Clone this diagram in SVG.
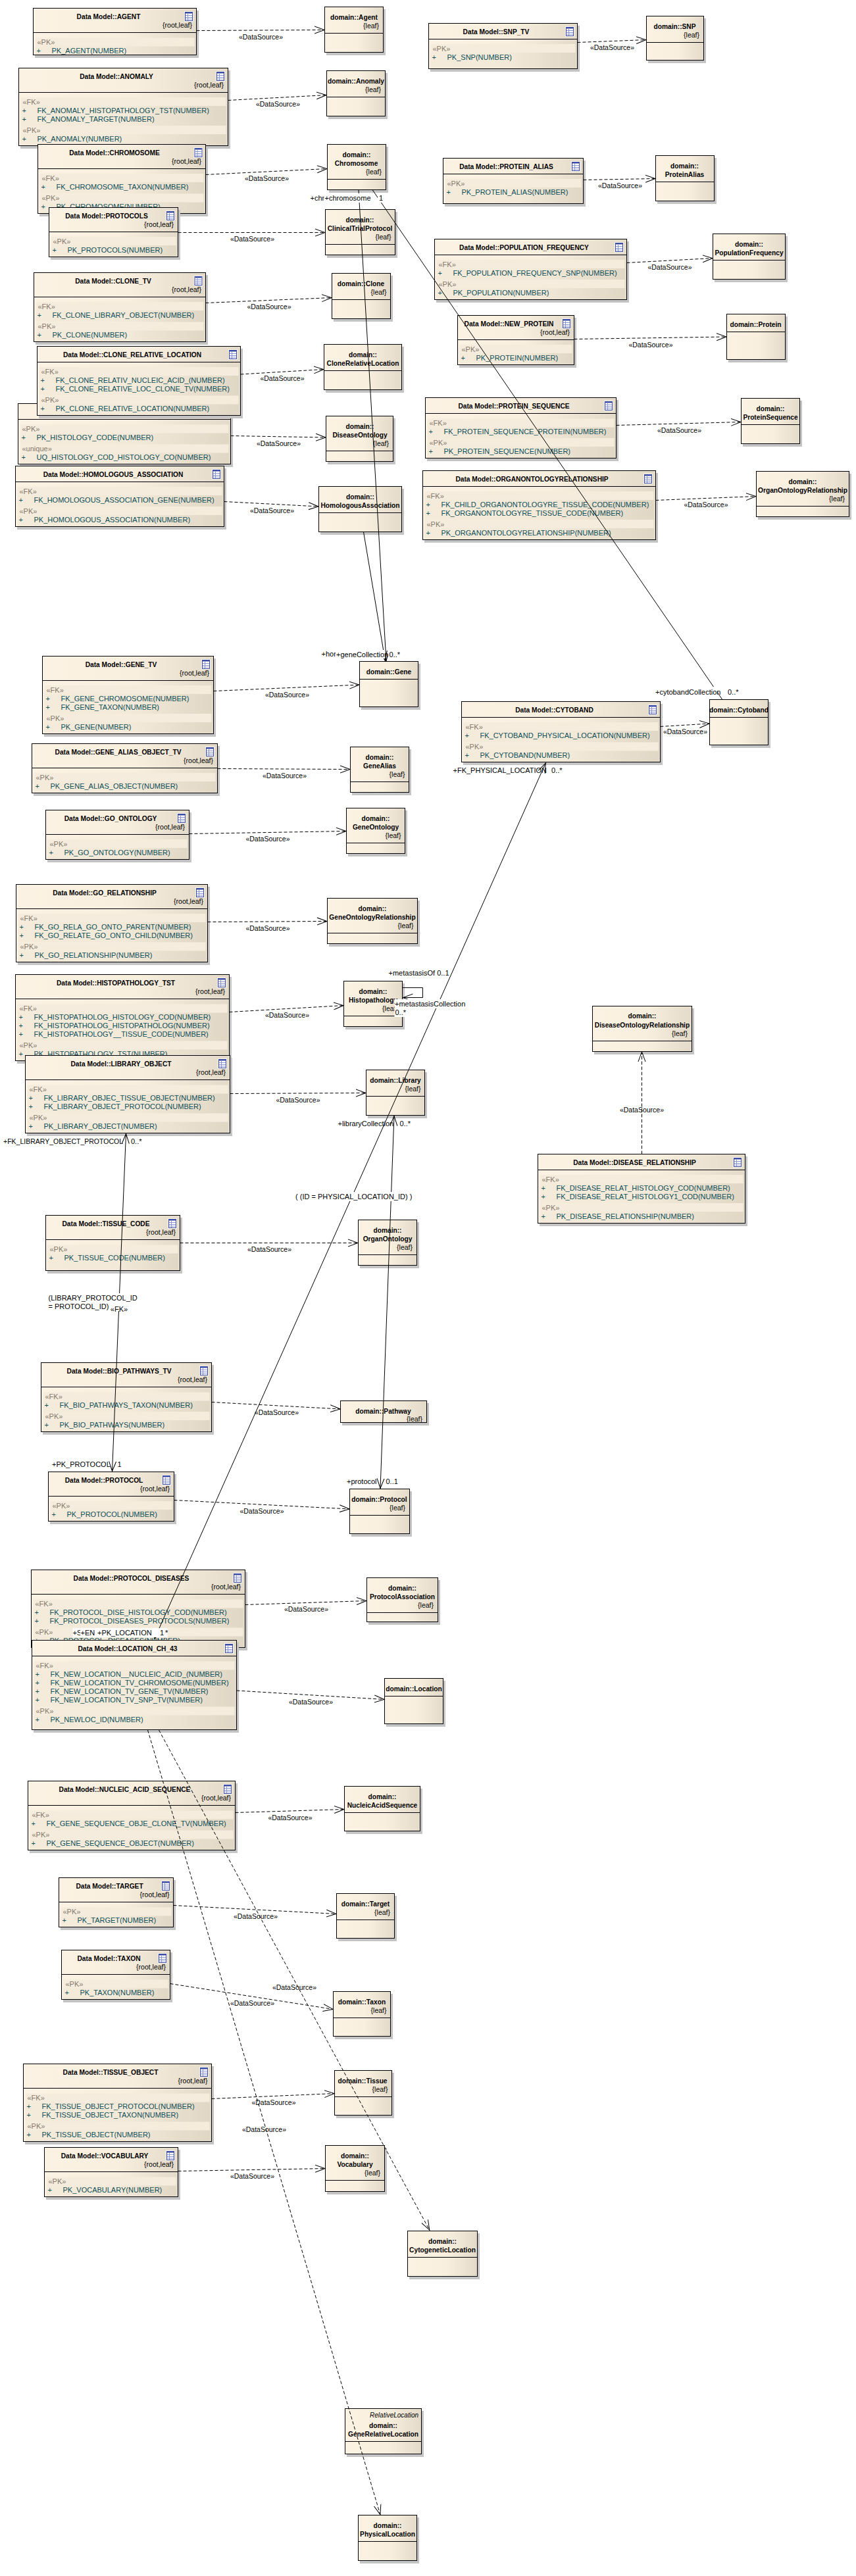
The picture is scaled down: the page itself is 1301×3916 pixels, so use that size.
<svg xmlns="http://www.w3.org/2000/svg" width="1301" height="3916" viewBox="0 0 1301 3916">
<style>
text{font-family:"Liberation Sans",Arial,sans-serif;font-size:11px;fill:#000}
.b{fill:url(#gr);stroke:#000;stroke-width:1;filter:url(#sh)}
.h{stroke:#000;stroke-width:1}
.t{font-weight:bold;font-size:10.2px;text-anchor:middle}
.r{text-anchor:end;font-size:10.5px}
.s{fill:#84786a}
.a{fill:#0d4e58}
.bd{fill:#f5ecdd}
.rw{fill:#cfc3ac;opacity:.13}
.d{stroke:#000;stroke-width:1;fill:none;stroke-dasharray:5 3;marker-end:url(#o)}
.c{stroke:#000;stroke-width:1;fill:none}
.v{marker-end:url(#o)}
.w2{marker-start:url(#o);marker-end:url(#o)}
.ds{text-anchor:middle;font-size:10.5px}
.w{fill:#fff}
</style>
<defs>
<linearGradient id="gr" x1="0" y1="0" x2="1" y2="0"><stop offset="0" stop-color="#fbf2e3"/><stop offset=".55" stop-color="#f8efdf"/><stop offset="1" stop-color="#e3dac9"/></linearGradient>
<filter id="sh" x="-5%" y="-20%" width="115%" height="145%"><feOffset in="SourceAlpha" dx="3" dy="3.5" result="o"/><feFlood flood-color="#c4c4c4"/><feComposite in2="o" operator="in"/><feMerge><feMergeNode/><feMergeNode in="SourceGraphic"/></feMerge></filter>
<marker id="o" markerUnits="userSpaceOnUse" markerWidth="18" markerHeight="14" refX="15.5" refY="7" orient="auto-start-reverse"><path d="M0,1.5L15,7L0,12.5" fill="none" stroke="#000"/></marker>
<g id="ic"><rect x="-1" y="-1" width="14" height="16" fill="#fff" opacity=".75"/><rect x=".5" y=".5" width="11" height="13" fill="#fff" stroke="#3b4ca6"/><path d="M1,1.5H11" stroke="#3b4ca6" stroke-width="2"/><path d="M1,5.5H11M1,8.5H11M1,11H11M4.5,3V13" stroke="#8a95cf"/></g>
</defs>
<g id="n-agent"><rect class="b" x="50.5" y="12.5" width="248" height="71"/><line class="h" x1="50.5" y1="49.5" x2="298.5" y2="49.5"/><use href="#ic" x="281" y="18"/><text class="t" x="165" y="29">Data Model::AGENT</text><text class="r" x="292" y="42">{root,leaf}</text><rect class="bd" x="53.5" y="57.5" width="242" height="13"/><rect class="rw" x="53.5" y="70.5" width="242" height="12"/><text class="s" x="56.5" y="68">«PK»</text><text class="a" x="55.5" y="81">+</text><text class="a" x="78.5" y="81">PK_AGENT(NUMBER)</text></g>
<g id="n-anomaly"><rect class="b" x="28.5" y="103.5" width="318" height="118"/><line class="h" x1="28.5" y1="140.5" x2="346.5" y2="140.5"/><use href="#ic" x="329" y="109"/><text class="t" x="177" y="120">Data Model::ANOMALY</text><text class="r" x="340" y="133">{root,leaf}</text><rect class="bd" x="31.5" y="148" width="312" height="13"/><rect class="rw" x="31.5" y="161" width="312" height="30"/><text class="s" x="34.5" y="159">«FK»</text><text class="a" x="33.5" y="172">+</text><text class="a" x="56.5" y="172">FK_ANOMALY_HISTOPATHOLOGY_TST(NUMBER)</text><text class="a" x="33.5" y="185">+</text><text class="a" x="56.5" y="185">FK_ANOMALY_TARGET(NUMBER)</text><rect class="bd" x="31.5" y="191" width="312" height="13"/><rect class="rw" x="31.5" y="204" width="312" height="17"/><text class="s" x="34.5" y="202">«PK»</text><text class="a" x="33.5" y="215">+</text><text class="a" x="56.5" y="215">PK_ANOMALY(NUMBER)</text></g>
<g id="n-chromosome"><rect class="b" x="57.5" y="219.5" width="255" height="105"/><line class="h" x1="57.5" y1="256.5" x2="312.5" y2="256.5"/><use href="#ic" x="295.5" y="225"/><text class="t" x="174" y="236">Data Model::CHROMOSOME</text><text class="r" x="306" y="249">{root,leaf}</text><rect class="bd" x="60.5" y="264" width="249" height="13"/><rect class="rw" x="60.5" y="277" width="249" height="17"/><text class="s" x="63.5" y="275">«FK»</text><text class="a" x="62.5" y="288">+</text><text class="a" x="85.5" y="288">FK_CHROMOSOME_TAXON(NUMBER)</text><rect class="bd" x="60.5" y="294.5" width="249" height="13"/><rect class="rw" x="60.5" y="307.5" width="249" height="16"/><text class="s" x="63.5" y="305">«PK»</text><text class="a" x="62.5" y="318">+</text><text class="a" x="85.5" y="318">PK_CHROMOSOME(NUMBER)</text></g>
<g id="n-protocols"><rect class="b" x="74.5" y="315.5" width="196" height="75"/><line class="h" x1="74.5" y1="352.5" x2="270.5" y2="352.5"/><use href="#ic" x="253" y="321"/><text class="t" x="162" y="332">Data Model::PROTOCOLS</text><text class="r" x="264" y="345">{root,leaf}</text><rect class="bd" x="77.5" y="360" width="190" height="13"/><rect class="rw" x="77.5" y="373" width="190" height="17"/><text class="s" x="80.5" y="371">«PK»</text><text class="a" x="79.5" y="384">+</text><text class="a" x="102.5" y="384">PK_PROTOCOLS(NUMBER)</text></g>
<g id="n-clone-tv"><rect class="b" x="51.5" y="414.5" width="261" height="105"/><line class="h" x1="51.5" y1="451.5" x2="312.5" y2="451.5"/><use href="#ic" x="295.5" y="420"/><text class="t" x="172" y="431">Data Model::CLONE_TV</text><text class="r" x="306" y="444">{root,leaf}</text><rect class="bd" x="54.5" y="459" width="255" height="13"/><rect class="rw" x="54.5" y="472" width="255" height="17"/><text class="s" x="57.5" y="470">«FK»</text><text class="a" x="56.5" y="483">+</text><text class="a" x="79.5" y="483">FK_CLONE_LIBRARY_OBJECT(NUMBER)</text><rect class="bd" x="54.5" y="489.5" width="255" height="13"/><rect class="rw" x="54.5" y="502.5" width="255" height="16.5"/><text class="s" x="57.5" y="500">«PK»</text><text class="a" x="56.5" y="513">+</text><text class="a" x="79.5" y="513">PK_CLONE(NUMBER)</text></g>
<g id="n-histology"><rect class="b" x="27.5" y="613.5" width="323" height="92"/><line class="h" x1="27.5" y1="637.5" x2="350.5" y2="637.5"/><rect class="bd" x="30.5" y="645.5" width="317" height="13"/><rect class="rw" x="30.5" y="658.5" width="317" height="17"/><text class="s" x="33.5" y="656">«PK»</text><text class="a" x="32.5" y="669">+</text><text class="a" x="55.5" y="669">PK_HISTOLOGY_CODE(NUMBER)</text><rect class="bd" x="30.5" y="675.5" width="317" height="13"/><rect class="rw" x="30.5" y="688.5" width="317" height="16.5"/><text class="s" x="33.5" y="686">«unique»</text><text class="a" x="32.5" y="699">+</text><text class="a" x="55.5" y="699">UQ_HISTOLOGY_COD_HISTOLOGY_CO(NUMBER)</text></g>
<g id="n-clone-rel"><rect class="b" x="56.5" y="526.5" width="309" height="105"/><line class="h" x1="56.5" y1="550.5" x2="365.5" y2="550.5"/><use href="#ic" x="348" y="532"/><text class="t" x="201" y="543">Data Model::CLONE_RELATIVE_LOCATION</text><rect class="bd" x="59.5" y="558" width="303" height="13"/><rect class="rw" x="59.5" y="571" width="303" height="30"/><text class="s" x="62.5" y="569">«FK»</text><text class="a" x="61.5" y="582">+</text><text class="a" x="84.5" y="582">FK_CLONE_RELATIV_NUCLEIC_ACID_(NUMBER)</text><text class="a" x="61.5" y="595">+</text><text class="a" x="84.5" y="595">FK_CLONE_RELATIVE_LOC_CLONE_TV(NUMBER)</text><rect class="bd" x="59.5" y="601.5" width="303" height="13"/><rect class="rw" x="59.5" y="614.5" width="303" height="16.5"/><text class="s" x="62.5" y="612">«PK»</text><text class="a" x="61.5" y="625">+</text><text class="a" x="84.5" y="625">PK_CLONE_RELATIVE_LOCATION(NUMBER)</text></g>
<g id="n-homologous"><rect class="b" x="23.5" y="708.5" width="317" height="92"/><line class="h" x1="23.5" y1="732.5" x2="340.5" y2="732.5"/><use href="#ic" x="323" y="714"/><text class="t" x="172" y="725">Data Model::HOMOLOGOUS_ASSOCIATION</text><rect class="bd" x="26.5" y="740" width="311" height="13"/><rect class="rw" x="26.5" y="753" width="311" height="17"/><text class="s" x="29.5" y="751">«FK»</text><text class="a" x="28.5" y="764">+</text><text class="a" x="51.5" y="764">FK_HOMOLOGOUS_ASSOCIATION_GENE(NUMBER)</text><rect class="bd" x="26.5" y="770" width="311" height="13"/><rect class="rw" x="26.5" y="783" width="311" height="17"/><text class="s" x="29.5" y="781">«PK»</text><text class="a" x="28.5" y="794">+</text><text class="a" x="51.5" y="794">PK_HOMOLOGOUS_ASSOCIATION(NUMBER)</text></g>
<g id="n-snp-tv"><rect class="b" x="651.5" y="35.5" width="226" height="69"/><line class="h" x1="651.5" y1="59.5" x2="877.5" y2="59.5"/><use href="#ic" x="860" y="41"/><text class="t" x="754" y="52">Data Model::SNP_TV</text><rect class="bd" x="654.5" y="67" width="220" height="13"/><rect class="rw" x="654.5" y="80" width="220" height="24"/><text class="s" x="657.5" y="78">«PK»</text><text class="a" x="656.5" y="91">+</text><text class="a" x="679.5" y="91">PK_SNP(NUMBER)</text></g>
<g id="n-protein-alias"><rect class="b" x="673.5" y="240.5" width="213" height="69"/><line class="h" x1="673.5" y1="264.5" x2="886.5" y2="264.5"/><use href="#ic" x="869" y="246"/><text class="t" x="769.5" y="257">Data Model::PROTEIN_ALIAS</text><rect class="bd" x="676.5" y="272" width="207" height="13"/><rect class="rw" x="676.5" y="285" width="207" height="24"/><text class="s" x="679.5" y="283">«PK»</text><text class="a" x="678.5" y="296">+</text><text class="a" x="701.5" y="296">PK_PROTEIN_ALIAS(NUMBER)</text></g>
<g id="n-population"><rect class="b" x="660.5" y="363.5" width="292" height="92"/><line class="h" x1="660.5" y1="387.5" x2="952.5" y2="387.5"/><use href="#ic" x="935" y="369"/><text class="t" x="796.5" y="380">Data Model::POPULATION_FREQUENCY</text><rect class="bd" x="663.5" y="395" width="286" height="13"/><rect class="rw" x="663.5" y="408" width="286" height="17"/><text class="s" x="666.5" y="406">«FK»</text><text class="a" x="665.5" y="419">+</text><text class="a" x="688.5" y="419">FK_POPULATION_FREQUENCY_SNP(NUMBER)</text><rect class="bd" x="663.5" y="425" width="286" height="13"/><rect class="rw" x="663.5" y="438" width="286" height="17"/><text class="s" x="666.5" y="436">«PK»</text><text class="a" x="665.5" y="449">+</text><text class="a" x="688.5" y="449">PK_POPULATION(NUMBER)</text></g>
<g id="n-new-protein"><rect class="b" x="695.5" y="479.5" width="177" height="75"/><line class="h" x1="695.5" y1="516.5" x2="872.5" y2="516.5"/><use href="#ic" x="855" y="485"/><text class="t" x="773.5" y="496">Data Model::NEW_PROTEIN</text><text class="r" x="866" y="509">{root,leaf}</text><rect class="bd" x="698.5" y="524" width="171" height="13"/><rect class="rw" x="698.5" y="537" width="171" height="17"/><text class="s" x="701.5" y="535">«PK»</text><text class="a" x="700.5" y="548">+</text><text class="a" x="723.5" y="548">PK_PROTEIN(NUMBER)</text></g>
<g id="n-protein-seq"><rect class="b" x="646.5" y="604.5" width="290" height="92"/><line class="h" x1="646.5" y1="628.5" x2="936.5" y2="628.5"/><use href="#ic" x="919" y="610"/><text class="t" x="781" y="621">Data Model::PROTEIN_SEQUENCE</text><rect class="bd" x="649.5" y="636.5" width="284" height="13"/><rect class="rw" x="649.5" y="649.5" width="284" height="17"/><text class="s" x="652.5" y="647">«FK»</text><text class="a" x="651.5" y="660">+</text><text class="a" x="674.5" y="660">FK_PROTEIN_SEQUENCE_PROTEIN(NUMBER)</text><rect class="bd" x="649.5" y="666" width="284" height="13"/><rect class="rw" x="649.5" y="679" width="284" height="17"/><text class="s" x="652.5" y="677">«PK»</text><text class="a" x="651.5" y="690">+</text><text class="a" x="674.5" y="690">PK_PROTEIN_SEQUENCE(NUMBER)</text></g>
<g id="n-organ-rel"><rect class="b" x="642.5" y="715.5" width="354" height="105"/><line class="h" x1="642.5" y1="739.5" x2="996.5" y2="739.5"/><use href="#ic" x="979" y="721"/><text class="t" x="808.5" y="732">Data Model::ORGANONTOLOGYRELATIONSHIP</text><rect class="bd" x="645.5" y="747" width="348" height="13"/><rect class="rw" x="645.5" y="760" width="348" height="30"/><text class="s" x="648.5" y="758">«FK»</text><text class="a" x="647.5" y="771">+</text><text class="a" x="670.5" y="771">FK_CHILD_ORGANONTOLOGYRE_TISSUE_CODE(NUMBER)</text><text class="a" x="647.5" y="784">+</text><text class="a" x="670.5" y="784">FK_ORGANONTOLOGYRE_TISSUE_CODE(NUMBER)</text><rect class="bd" x="645.5" y="790" width="348" height="13"/><rect class="rw" x="645.5" y="803" width="348" height="17"/><text class="s" x="648.5" y="801">«PK»</text><text class="a" x="647.5" y="814">+</text><text class="a" x="670.5" y="814">PK_ORGANONTOLOGYRELATIONSHIP(NUMBER)</text></g>
<g id="n-gene-tv"><rect class="b" x="64.5" y="997.5" width="260" height="118"/><line class="h" x1="64.5" y1="1034.5" x2="324.5" y2="1034.5"/><use href="#ic" x="307" y="1003"/><text class="t" x="184" y="1014">Data Model::GENE_TV</text><text class="r" x="318" y="1027">{root,leaf}</text><rect class="bd" x="67.5" y="1042" width="254" height="13"/><rect class="rw" x="67.5" y="1055" width="254" height="30"/><text class="s" x="70.5" y="1053">«FK»</text><text class="a" x="69.5" y="1066">+</text><text class="a" x="92.5" y="1066">FK_GENE_CHROMOSOME(NUMBER)</text><text class="a" x="69.5" y="1079">+</text><text class="a" x="92.5" y="1079">FK_GENE_TAXON(NUMBER)</text><rect class="bd" x="67.5" y="1085" width="254" height="13"/><rect class="rw" x="67.5" y="1098" width="254" height="17"/><text class="s" x="70.5" y="1096">«PK»</text><text class="a" x="69.5" y="1109">+</text><text class="a" x="92.5" y="1109">PK_GENE(NUMBER)</text></g>
<g id="n-gene-alias"><rect class="b" x="48.5" y="1130.5" width="282" height="75"/><line class="h" x1="48.5" y1="1167.5" x2="330.5" y2="1167.5"/><use href="#ic" x="313" y="1136"/><text class="t" x="179.5" y="1147">Data Model::GENE_ALIAS_OBJECT_TV</text><text class="r" x="324" y="1160">{root,leaf}</text><rect class="bd" x="51.5" y="1175" width="276" height="13"/><rect class="rw" x="51.5" y="1188" width="276" height="17"/><text class="s" x="54.5" y="1186">«PK»</text><text class="a" x="53.5" y="1199">+</text><text class="a" x="76.5" y="1199">PK_GENE_ALIAS_OBJECT(NUMBER)</text></g>
<g id="n-go-ontology"><rect class="b" x="69.5" y="1231.5" width="218" height="75"/><line class="h" x1="69.5" y1="1268.5" x2="287.5" y2="1268.5"/><use href="#ic" x="270" y="1237"/><text class="t" x="168" y="1248">Data Model::GO_ONTOLOGY</text><text class="r" x="281" y="1261">{root,leaf}</text><rect class="bd" x="72.5" y="1276" width="212" height="13"/><rect class="rw" x="72.5" y="1289" width="212" height="17"/><text class="s" x="75.5" y="1287">«PK»</text><text class="a" x="74.5" y="1300">+</text><text class="a" x="97.5" y="1300">PK_GO_ONTOLOGY(NUMBER)</text></g>
<g id="n-go-rel"><rect class="b" x="24.5" y="1344.5" width="291" height="118"/><line class="h" x1="24.5" y1="1381.5" x2="315.5" y2="1381.5"/><use href="#ic" x="298" y="1350"/><text class="t" x="159" y="1361">Data Model::GO_RELATIONSHIP</text><text class="r" x="309" y="1374">{root,leaf}</text><rect class="bd" x="27.5" y="1389" width="285" height="13"/><rect class="rw" x="27.5" y="1402" width="285" height="30"/><text class="s" x="30.5" y="1400">«FK»</text><text class="a" x="29.5" y="1413">+</text><text class="a" x="52.5" y="1413">FK_GO_RELA_GO_ONTO_PARENT(NUMBER)</text><text class="a" x="29.5" y="1426">+</text><text class="a" x="52.5" y="1426">FK_GO_RELATE_GO_ONTO_CHILD(NUMBER)</text><rect class="bd" x="27.5" y="1432.5" width="285" height="13"/><rect class="rw" x="27.5" y="1445.5" width="285" height="16.5"/><text class="s" x="30.5" y="1443">«PK»</text><text class="a" x="29.5" y="1456">+</text><text class="a" x="52.5" y="1456">PK_GO_RELATIONSHIP(NUMBER)</text></g>
<g id="n-histopathology"><rect class="b" x="23.5" y="1481.5" width="325" height="131"/><line class="h" x1="23.5" y1="1518.5" x2="348.5" y2="1518.5"/><use href="#ic" x="331" y="1487"/><text class="t" x="176" y="1498">Data Model::HISTOPATHOLOGY_TST</text><text class="r" x="342" y="1511">{root,leaf}</text><rect class="bd" x="26.5" y="1526.5" width="319" height="13"/><rect class="rw" x="26.5" y="1539.5" width="319" height="43"/><text class="s" x="29.5" y="1537">«FK»</text><text class="a" x="28.5" y="1550">+</text><text class="a" x="51.5" y="1550">FK_HISTOPATHOLOG_HISTOLOGY_COD(NUMBER)</text><text class="a" x="28.5" y="1563">+</text><text class="a" x="51.5" y="1563">FK_HISTOPATHOLOG_HISTOPATHOLOG(NUMBER)</text><text class="a" x="28.5" y="1576">+</text><text class="a" x="51.5" y="1576">FK_HISTOPATHOLOGY__TISSUE_CODE(NUMBER)</text><rect class="bd" x="26.5" y="1582.5" width="319" height="13"/><rect class="rw" x="26.5" y="1595.5" width="319" height="16.5"/><text class="s" x="29.5" y="1593">«PK»</text><text class="a" x="28.5" y="1606">+</text><text class="a" x="51.5" y="1606">PK_HISTOPATHOLOGY_TST(NUMBER)</text></g>
<g id="n-library"><rect class="b" x="38.5" y="1604.5" width="311" height="118"/><line class="h" x1="38.5" y1="1641.5" x2="349.5" y2="1641.5"/><use href="#ic" x="332" y="1610"/><text class="t" x="184" y="1621">Data Model::LIBRARY_OBJECT</text><text class="r" x="343" y="1634">{root,leaf}</text><rect class="bd" x="41.5" y="1649.5" width="305" height="13"/><rect class="rw" x="41.5" y="1662.5" width="305" height="30"/><text class="s" x="44.5" y="1660">«FK»</text><text class="a" x="43.5" y="1673">+</text><text class="a" x="66.5" y="1673">FK_LIBRARY_OBJEC_TISSUE_OBJECT(NUMBER)</text><text class="a" x="43.5" y="1686">+</text><text class="a" x="66.5" y="1686">FK_LIBRARY_OBJECT_PROTOCOL(NUMBER)</text><rect class="bd" x="41.5" y="1692.5" width="305" height="13"/><rect class="rw" x="41.5" y="1705.5" width="305" height="16.5"/><text class="s" x="44.5" y="1703">«PK»</text><text class="a" x="43.5" y="1716">+</text><text class="a" x="66.5" y="1716">PK_LIBRARY_OBJECT(NUMBER)</text></g>
<g id="n-cytoband"><rect class="b" x="701.5" y="1066.5" width="302" height="92"/><line class="h" x1="701.5" y1="1090.5" x2="1003.5" y2="1090.5"/><use href="#ic" x="986" y="1072"/><text class="t" x="842.5" y="1083">Data Model::CYTOBAND</text><rect class="bd" x="704.5" y="1098" width="296" height="13"/><rect class="rw" x="704.5" y="1111" width="296" height="17"/><text class="s" x="707.5" y="1109">«FK»</text><text class="a" x="706.5" y="1122">+</text><text class="a" x="729.5" y="1122">FK_CYTOBAND_PHYSICAL_LOCATION(NUMBER)</text><rect class="bd" x="704.5" y="1128.5" width="296" height="13"/><rect class="rw" x="704.5" y="1141.5" width="296" height="16.5"/><text class="s" x="707.5" y="1139">«PK»</text><text class="a" x="706.5" y="1152">+</text><text class="a" x="729.5" y="1152">PK_CYTOBAND(NUMBER)</text></g>
<g id="n-disease-rel"><rect class="b" x="817.5" y="1754.5" width="315" height="105"/><line class="h" x1="817.5" y1="1778.5" x2="1132.5" y2="1778.5"/><use href="#ic" x="1115" y="1760"/><text class="t" x="964.5" y="1771">Data Model::DISEASE_RELATIONSHIP</text><rect class="bd" x="820.5" y="1786" width="309" height="13"/><rect class="rw" x="820.5" y="1799" width="309" height="30"/><text class="s" x="823.5" y="1797">«FK»</text><text class="a" x="822.5" y="1810">+</text><text class="a" x="845.5" y="1810">FK_DISEASE_RELAT_HISTOLOGY_COD(NUMBER)</text><text class="a" x="822.5" y="1823">+</text><text class="a" x="845.5" y="1823">FK_DISEASE_RELAT_HISTOLOGY1_COD(NUMBER)</text><rect class="bd" x="820.5" y="1829" width="309" height="13"/><rect class="rw" x="820.5" y="1842" width="309" height="17"/><text class="s" x="823.5" y="1840">«PK»</text><text class="a" x="822.5" y="1853">+</text><text class="a" x="845.5" y="1853">PK_DISEASE_RELATIONSHIP(NUMBER)</text></g>
<g id="n-tissue-code"><rect class="b" x="69.5" y="1847.5" width="204" height="84"/><line class="h" x1="69.5" y1="1884.5" x2="273.5" y2="1884.5"/><use href="#ic" x="256" y="1853"/><text class="t" x="161" y="1864">Data Model::TISSUE_CODE</text><text class="r" x="267" y="1877">{root,leaf}</text><rect class="bd" x="72.5" y="1892.5" width="198" height="13"/><rect class="rw" x="72.5" y="1905.5" width="198" height="25.5"/><text class="s" x="75.5" y="1903">«PK»</text><text class="a" x="74.5" y="1916">+</text><text class="a" x="97.5" y="1916">PK_TISSUE_CODE(NUMBER)</text></g>
<g id="n-bio-pathways"><rect class="b" x="62.5" y="2071.5" width="259" height="105"/><line class="h" x1="62.5" y1="2108.5" x2="321.5" y2="2108.5"/><use href="#ic" x="304" y="2077"/><text class="t" x="181" y="2088">Data Model::BIO_PATHWAYS_TV</text><text class="r" x="315" y="2101">{root,leaf}</text><rect class="bd" x="65.5" y="2116.5" width="253" height="13"/><rect class="rw" x="65.5" y="2129.5" width="253" height="17"/><text class="s" x="68.5" y="2127">«FK»</text><text class="a" x="67.5" y="2140">+</text><text class="a" x="90.5" y="2140">FK_BIO_PATHWAYS_TAXON(NUMBER)</text><rect class="bd" x="65.5" y="2146" width="253" height="13"/><rect class="rw" x="65.5" y="2159" width="253" height="17"/><text class="s" x="68.5" y="2157">«PK»</text><text class="a" x="67.5" y="2170">+</text><text class="a" x="90.5" y="2170">PK_BIO_PATHWAYS(NUMBER)</text></g>
<g id="n-protocol"><rect class="b" x="73.5" y="2237.5" width="191" height="75"/><line class="h" x1="73.5" y1="2274.5" x2="264.5" y2="2274.5"/><use href="#ic" x="247" y="2243"/><text class="t" x="158" y="2254">Data Model::PROTOCOL</text><text class="r" x="258" y="2267">{root,leaf}</text><rect class="bd" x="76.5" y="2282" width="185" height="13"/><rect class="rw" x="76.5" y="2295" width="185" height="17"/><text class="s" x="79.5" y="2293">«PK»</text><text class="a" x="78.5" y="2306">+</text><text class="a" x="101.5" y="2306">PK_PROTOCOL(NUMBER)</text></g>
<g id="n-protocol-diseases"><rect class="b" x="47.5" y="2386.5" width="325" height="118"/><line class="h" x1="47.5" y1="2423.5" x2="372.5" y2="2423.5"/><use href="#ic" x="355" y="2392"/><text class="t" x="199.5" y="2403">Data Model::PROTOCOL_DISEASES</text><text class="r" x="366" y="2416">{root,leaf}</text><rect class="bd" x="50.5" y="2431.5" width="319" height="13"/><rect class="rw" x="50.5" y="2444.5" width="319" height="30"/><text class="s" x="53.5" y="2442">«FK»</text><text class="a" x="52.5" y="2455">+</text><text class="a" x="75.5" y="2455">FK_PROTOCOL_DISE_HISTOLOGY_COD(NUMBER)</text><text class="a" x="52.5" y="2468">+</text><text class="a" x="75.5" y="2468">FK_PROTOCOL_DISEASES_PROTOCOLS(NUMBER)</text><rect class="bd" x="50.5" y="2474.5" width="319" height="13"/><rect class="rw" x="50.5" y="2487.5" width="319" height="16.5"/><text class="s" x="53.5" y="2485">«PK»</text><text class="a" x="52.5" y="2498">+</text><text class="a" x="75.5" y="2498">PK_PROTOCOL_DISEASES(NUMBER)</text></g>
<g id="n-location"><rect class="b" x="48.5" y="2493.5" width="311" height="136"/><line class="h" x1="48.5" y1="2517.5" x2="359.5" y2="2517.5"/><use href="#ic" x="342" y="2499"/><text class="t" x="194" y="2510">Data Model::LOCATION_CH_43</text><rect class="bd" x="51.5" y="2525.5" width="305" height="13"/><rect class="rw" x="51.5" y="2538.5" width="305" height="56"/><text class="s" x="54.5" y="2536">«FK»</text><text class="a" x="53.5" y="2549">+</text><text class="a" x="76.5" y="2549">FK_NEW_LOCATION__NUCLEIC_ACID_(NUMBER)</text><text class="a" x="53.5" y="2562">+</text><text class="a" x="76.5" y="2562">FK_NEW_LOCATION_TV_CHROMOSOME(NUMBER)</text><text class="a" x="53.5" y="2575">+</text><text class="a" x="76.5" y="2575">FK_NEW_LOCATION_TV_GENE_TV(NUMBER)</text><text class="a" x="53.5" y="2588">+</text><text class="a" x="76.5" y="2588">FK_NEW_LOCATION_TV_SNP_TV(NUMBER)</text><rect class="bd" x="51.5" y="2594.5" width="305" height="13"/><rect class="rw" x="51.5" y="2607.5" width="305" height="21.5"/><text class="s" x="54.5" y="2605">«PK»</text><text class="a" x="53.5" y="2618">+</text><text class="a" x="76.5" y="2618">PK_NEWLOC_ID(NUMBER)</text></g>
<g id="n-nucleic"><rect class="b" x="42.5" y="2707.5" width="315" height="105"/><line class="h" x1="42.5" y1="2744.5" x2="357.5" y2="2744.5"/><use href="#ic" x="340" y="2713"/><text class="t" x="189.5" y="2724">Data Model::NUCLEIC_ACID_SEQUENCE</text><text class="r" x="351" y="2737">{root,leaf}</text><rect class="bd" x="45.5" y="2752.5" width="309" height="13"/><rect class="rw" x="45.5" y="2765.5" width="309" height="17"/><text class="s" x="48.5" y="2763">«FK»</text><text class="a" x="47.5" y="2776">+</text><text class="a" x="70.5" y="2776">FK_GENE_SEQUENCE_OBJE_CLONE_TV(NUMBER)</text><rect class="bd" x="45.5" y="2782.5" width="309" height="13"/><rect class="rw" x="45.5" y="2795.5" width="309" height="16.5"/><text class="s" x="48.5" y="2793">«PK»</text><text class="a" x="47.5" y="2806">+</text><text class="a" x="70.5" y="2806">PK_GENE_SEQUENCE_OBJECT(NUMBER)</text></g>
<g id="n-target"><rect class="b" x="89.5" y="2854.5" width="174" height="75"/><line class="h" x1="89.5" y1="2891.5" x2="263.5" y2="2891.5"/><use href="#ic" x="246" y="2860"/><text class="t" x="166.5" y="2871">Data Model::TARGET</text><text class="r" x="257.5" y="2884">{root,leaf}</text><rect class="bd" x="92.5" y="2899.5" width="168" height="13"/><rect class="rw" x="92.5" y="2912.5" width="168" height="16.5"/><text class="s" x="95.5" y="2910">«PK»</text><text class="a" x="94.5" y="2923">+</text><text class="a" x="117.5" y="2923">PK_TARGET(NUMBER)</text></g>
<g id="n-taxon"><rect class="b" x="93.5" y="2964.5" width="165" height="75"/><line class="h" x1="93.5" y1="3001.5" x2="258.5" y2="3001.5"/><use href="#ic" x="241" y="2970"/><text class="t" x="165.5" y="2981">Data Model::TAXON</text><text class="r" x="252" y="2994">{root,leaf}</text><rect class="bd" x="96.5" y="3009.5" width="159" height="13"/><rect class="rw" x="96.5" y="3022.5" width="159" height="16.5"/><text class="s" x="99.5" y="3020">«PK»</text><text class="a" x="98.5" y="3033">+</text><text class="a" x="121.5" y="3033">PK_TAXON(NUMBER)</text></g>
<g id="n-tissue-object"><rect class="b" x="35.5" y="3137.5" width="286" height="118"/><line class="h" x1="35.5" y1="3174.5" x2="321.5" y2="3174.5"/><use href="#ic" x="304" y="3143"/><text class="t" x="168" y="3154">Data Model::TISSUE_OBJECT</text><text class="r" x="315.5" y="3167">{root,leaf}</text><rect class="bd" x="38.5" y="3182.5" width="280" height="13"/><rect class="rw" x="38.5" y="3195.5" width="280" height="30"/><text class="s" x="41.5" y="3193">«FK»</text><text class="a" x="40.5" y="3206">+</text><text class="a" x="63.5" y="3206">FK_TISSUE_OBJECT_PROTOCOL(NUMBER)</text><text class="a" x="40.5" y="3219">+</text><text class="a" x="63.5" y="3219">FK_TISSUE_OBJECT_TAXON(NUMBER)</text><rect class="bd" x="38.5" y="3225.5" width="280" height="13"/><rect class="rw" x="38.5" y="3238.5" width="280" height="16.5"/><text class="s" x="41.5" y="3236">«PK»</text><text class="a" x="40.5" y="3249">+</text><text class="a" x="63.5" y="3249">PK_TISSUE_OBJECT(NUMBER)</text></g>
<g id="n-vocabulary"><rect class="b" x="67.5" y="3264.5" width="203" height="75"/><line class="h" x1="67.5" y1="3301.5" x2="270.5" y2="3301.5"/><use href="#ic" x="253" y="3270"/><text class="t" x="159" y="3281">Data Model::VOCABULARY</text><text class="r" x="264" y="3294">{root,leaf}</text><rect class="bd" x="70.5" y="3309.5" width="197" height="13"/><rect class="rw" x="70.5" y="3322.5" width="197" height="16.5"/><text class="s" x="73.5" y="3320">«PK»</text><text class="a" x="72.5" y="3333">+</text><text class="a" x="95.5" y="3333">PK_VOCABULARY(NUMBER)</text></g>
<g id="d-agent"><rect class="b" x="493.5" y="10.5" width="89" height="69"/><line class="h" x1="493.5" y1="50.5" x2="582.5" y2="50.5"/><text class="t" x="538" y="30">domain::Agent</text><text class="r" x="576" y="43">{leaf}</text></g>
<g id="d-anomaly"><rect class="b" x="496.5" y="107.5" width="89" height="69"/><line class="h" x1="496.5" y1="147.5" x2="585.5" y2="147.5"/><text class="t" x="541" y="127">domain::Anomaly</text><text class="r" x="579" y="140">{leaf}</text></g>
<g id="d-chromosome"><rect class="b" x="497.5" y="219.5" width="89" height="69"/><line class="h" x1="497.5" y1="272.5" x2="586.5" y2="272.5"/><text class="t" x="542" y="239">domain::</text><text class="t" x="541.5" y="252">Chromosome</text><text class="r" x="580" y="265">{leaf}</text></g>
<g id="d-clinical"><rect class="b" x="494.5" y="318.5" width="106" height="69"/><line class="h" x1="494.5" y1="371.5" x2="600.5" y2="371.5"/><text class="t" x="547" y="338">domain::</text><text class="t" x="547" y="351">ClinicalTrialProtocol</text><text class="r" x="594.5" y="364">{leaf}</text></g>
<g id="d-clone"><rect class="b" x="504.5" y="415.5" width="89" height="69"/><line class="h" x1="504.5" y1="455.5" x2="593.5" y2="455.5"/><text class="t" x="548.5" y="435">domain::Clone</text><text class="r" x="587.5" y="448">{leaf}</text></g>
<g id="d-clone-rel"><rect class="b" x="492.5" y="523.5" width="118" height="69"/><line class="h" x1="492.5" y1="563.5" x2="610.5" y2="563.5"/><text class="t" x="551.5" y="543">domain::</text><text class="t" x="551.5" y="556">CloneRelativeLocation</text></g>
<g id="d-disease-ont"><rect class="b" x="495.5" y="632.5" width="102" height="69"/><line class="h" x1="495.5" y1="685.5" x2="597.5" y2="685.5"/><text class="t" x="547" y="652">domain::</text><text class="t" x="547" y="665">DiseaseOntology</text><text class="r" x="591" y="678">{leaf}</text></g>
<g id="d-homologous"><rect class="b" x="484.5" y="739.5" width="126" height="69"/><line class="h" x1="484.5" y1="779.5" x2="610.5" y2="779.5"/><text class="t" x="547.5" y="759">domain::</text><text class="t" x="547.5" y="772">HomologousAssociation</text></g>
<g id="d-snp"><rect class="b" x="982.5" y="24.5" width="87" height="67"/><line class="h" x1="982.5" y1="64.5" x2="1069.5" y2="64.5"/><text class="t" x="1025.5" y="44">domain::SNP</text><text class="r" x="1063" y="57">{leaf}</text></g>
<g id="d-protein-alias"><rect class="b" x="996.5" y="236.5" width="89" height="69"/><line class="h" x1="996.5" y1="276.5" x2="1085.5" y2="276.5"/><text class="t" x="1040.5" y="256">domain::</text><text class="t" x="1040.5" y="269">ProteinAlias</text></g>
<g id="d-population"><rect class="b" x="1083.5" y="355.5" width="110" height="69"/><line class="h" x1="1083.5" y1="395.5" x2="1193.5" y2="395.5"/><text class="t" x="1138.5" y="375">domain::</text><text class="t" x="1138.5" y="388">PopulationFrequency</text></g>
<g id="d-protein"><rect class="b" x="1104.5" y="477.5" width="89" height="69"/><line class="h" x1="1104.5" y1="504.5" x2="1193.5" y2="504.5"/><text class="t" x="1148.5" y="497">domain::Protein</text></g>
<g id="d-protein-seq"><rect class="b" x="1126.5" y="605.5" width="89" height="69"/><line class="h" x1="1126.5" y1="645.5" x2="1215.5" y2="645.5"/><text class="t" x="1171" y="625">domain::</text><text class="t" x="1171" y="638">ProteinSequence</text></g>
<g id="d-organ-rel"><rect class="b" x="1149.5" y="716.5" width="141" height="69"/><line class="h" x1="1149.5" y1="769.5" x2="1290.5" y2="769.5"/><text class="t" x="1220" y="736">domain::</text><text class="t" x="1220" y="749">OrganOntologyRelationship</text><text class="r" x="1284" y="762">{leaf}</text></g>
<g id="d-gene"><rect class="b" x="546.5" y="1005.5" width="89" height="69"/><line class="h" x1="546.5" y1="1032.5" x2="635.5" y2="1032.5"/><text class="t" x="591" y="1025">domain::Gene</text></g>
<g id="d-gene-alias"><rect class="b" x="532.5" y="1135.5" width="89" height="69"/><line class="h" x1="532.5" y1="1188.5" x2="621.5" y2="1188.5"/><text class="t" x="577" y="1155">domain::</text><text class="t" x="577" y="1168">GeneAlias</text><text class="r" x="615.5" y="1181">{leaf}</text></g>
<g id="d-gene-ont"><rect class="b" x="526.5" y="1228.5" width="89" height="69"/><line class="h" x1="526.5" y1="1281.5" x2="615.5" y2="1281.5"/><text class="t" x="571" y="1248">domain::</text><text class="t" x="571" y="1261">GeneOntology</text><text class="r" x="609.5" y="1274">{leaf}</text></g>
<g id="d-gene-ont-rel"><rect class="b" x="497.5" y="1365.5" width="137" height="69"/><line class="h" x1="497.5" y1="1418.5" x2="634.5" y2="1418.5"/><text class="t" x="566" y="1385">domain::</text><text class="t" x="566" y="1398">GeneOntologyRelationship</text><text class="r" x="628.5" y="1411">{leaf}</text></g>
<g id="d-histopathology"><rect class="b" x="522.5" y="1491.5" width="89" height="69"/><line class="h" x1="522.5" y1="1544.5" x2="611.5" y2="1544.5"/><text class="t" x="567" y="1511">domain::</text><text class="t" x="567" y="1524">Histopathology</text><text class="r" x="605" y="1537">{leaf}</text></g>
<g id="d-library"><rect class="b" x="556.5" y="1626.5" width="89" height="69"/><line class="h" x1="556.5" y1="1666.5" x2="645.5" y2="1666.5"/><text class="t" x="601" y="1646">domain::Library</text><text class="r" x="639.5" y="1659">{leaf}</text></g>
<g id="d-cytoband"><rect class="b" x="1078.5" y="1063.5" width="89" height="69"/><line class="h" x1="1078.5" y1="1090.5" x2="1167.5" y2="1090.5"/><text class="t" x="1123" y="1083">domain::Cytoband</text></g>
<g id="d-disease-rel"><rect class="b" x="900.5" y="1529.5" width="151" height="69"/><line class="h" x1="900.5" y1="1582.5" x2="1051.5" y2="1582.5"/><text class="t" x="976" y="1548">domain::</text><text class="t" x="976" y="1562">DiseaseOntologyRelationship</text><text class="r" x="1045" y="1575">{leaf}</text></g>
<g id="d-organ"><rect class="b" x="544.5" y="1854.5" width="89" height="69"/><line class="h" x1="544.5" y1="1907.5" x2="633.5" y2="1907.5"/><text class="t" x="589" y="1874">domain::</text><text class="t" x="589" y="1887">OrganOntology</text><text class="r" x="627" y="1900">{leaf}</text></g>
<g id="d-pathway"><rect class="b" x="517.5" y="2129.5" width="131" height="33"/><text class="t" x="582.5" y="2149">domain::Pathway</text><text class="r" x="642" y="2161">{leaf}</text></g>
<g id="d-protocol"><rect class="b" x="531.5" y="2263.5" width="91" height="68"/><line class="h" x1="531.5" y1="2303.5" x2="622.5" y2="2303.5"/><text class="t" x="576.5" y="2283">domain::Protocol</text><text class="r" x="616" y="2296">{leaf}</text></g>
<g id="d-protocol-assoc"><rect class="b" x="557.5" y="2398.5" width="108" height="67"/><line class="h" x1="557.5" y1="2451.5" x2="665.5" y2="2451.5"/><text class="t" x="611.5" y="2418">domain::</text><text class="t" x="611.5" y="2431">ProtocolAssociation</text><text class="r" x="659" y="2444">{leaf}</text></g>
<g id="d-location"><rect class="b" x="584.5" y="2551.5" width="89" height="69"/><line class="h" x1="584.5" y1="2578.5" x2="673.5" y2="2578.5"/><text class="t" x="629" y="2571">domain::Location</text></g>
<g id="d-nucleic"><rect class="b" x="523.5" y="2715.5" width="115" height="68"/><line class="h" x1="523.5" y1="2755.5" x2="638.5" y2="2755.5"/><text class="t" x="581" y="2735">domain::</text><text class="t" x="581" y="2748">NucleicAcidSequence</text></g>
<g id="d-target"><rect class="b" x="511.5" y="2878.5" width="88" height="68"/><line class="h" x1="511.5" y1="2918.5" x2="599.5" y2="2918.5"/><text class="t" x="555.5" y="2898">domain::Target</text><text class="r" x="593" y="2911">{leaf}</text></g>
<g id="d-taxon"><rect class="b" x="506.5" y="3027.5" width="87" height="68"/><line class="h" x1="506.5" y1="3067.5" x2="593.5" y2="3067.5"/><text class="t" x="550" y="3047">domain::Taxon</text><text class="r" x="587.5" y="3060">{leaf}</text></g>
<g id="d-tissue"><rect class="b" x="508.5" y="3147.5" width="87" height="68"/><line class="h" x1="508.5" y1="3187.5" x2="595.5" y2="3187.5"/><text class="t" x="551" y="3167">domain::Tissue</text><text class="r" x="589.5" y="3180">{leaf}</text></g>
<g id="d-vocabulary"><rect class="b" x="494.5" y="3261.5" width="90" height="70"/><line class="h" x1="494.5" y1="3314.5" x2="584.5" y2="3314.5"/><text class="t" x="539.5" y="3281">domain::</text><text class="t" x="539.5" y="3294">Vocabulary</text><text class="r" x="578" y="3307">{leaf}</text></g>
<g id="d-cytogenetic"><rect class="b" x="619.5" y="3391.5" width="106" height="69"/><line class="h" x1="619.5" y1="3431.5" x2="725.5" y2="3431.5"/><text class="t" x="672.5" y="3411">domain::</text><text class="t" x="672.5" y="3424">CytogeneticLocation</text></g>
<g id="d-gene-rel"><rect class="b" x="524.5" y="3661.5" width="116" height="69"/><line class="h" x1="524.5" y1="3711.5" x2="640.5" y2="3711.5"/><text class="r" x="636" y="3675" font-style="italic" style="font-size:10px">RelativeLocation</text><text class="t" x="582.5" y="3691">domain::</text><text class="t" x="582.5" y="3704">GeneRelativeLocation</text></g>
<g id="d-physical"><rect class="b" x="544.5" y="3823.5" width="89" height="69"/><line class="h" x1="544.5" y1="3863.5" x2="633.5" y2="3863.5"/><text class="t" x="589" y="3843">domain::</text><text class="t" x="589" y="3856">PhysicalLocation</text></g>
<g id="connectors">
<path class="d" d="M298.5,46.5L493.5,45.5"/><path class="d" d="M346.5,152.5L496.5,144.5"/><path class="d" d="M312.5,265.5L497.5,256.5"/><path class="d" d="M270.5,353.5L494.5,353.5"/><path class="d" d="M312.5,460.5L504.5,452.5"/><path class="d" d="M365.5,569L492.5,561.5"/><path class="d" d="M350.5,662.5L495.5,665"/><path class="d" d="M340.5,762.5L484.5,770"/>
<path class="d" d="M877.5,64.5L982.5,60.5"/><path class="d" d="M886.5,273.5L996.5,271.5"/><path class="d" d="M952.5,399.5L1083.5,392.5"/><path class="d" d="M872.5,515.5L1104.5,512"/><path class="d" d="M936.5,646.5L1126.5,641.5"/><path class="d" d="M996.5,760.5L1149.5,754.5"/>
<path class="d" d="M324.5,1050.5L546.5,1041"/><path class="d" d="M330.5,1168.5L532.5,1169.5"/><path class="d" d="M287.5,1267.5L526.5,1263.5"/><path class="d" d="M315.5,1401.5L497.5,1400.5"/><path class="d" d="M348.5,1538.5L522.5,1528.5"/><path class="d" d="M349.5,1662.5L556.5,1661.5"/>
<path class="d" d="M1003.5,1104.5L1078.5,1100"/><path class="d" d="M975.5,1754.5V1598.5"/>
<path class="d" d="M273.5,1889.5H544.5"/><path class="d" d="M321.5,2131.5L517.5,2142"/><path class="d" d="M264.5,2280.5L531.5,2294"/><path class="d" d="M372.5,2439.5L557.5,2433.5"/><path class="d" d="M359.5,2570L584.5,2583.5"/><path class="d" d="M357.5,2755.5L523.5,2750.5"/><path class="d" d="M263.5,2896.5L511.5,2909.5"/><path class="d" d="M258.5,3015.5L506.5,3054.5"/><path class="d" d="M321.5,3190.5L508.5,3182.5"/><path class="d" d="M270.5,3300.5L494.5,3296.5"/>
<path class="d" d="M241.5,2630L653,3390.5"/><path class="d" d="M224.5,2630L578,3823"/>
<path class="c v" d="M545,288.5L587,1005"/><path class="c v" d="M552.5,808.5L585.5,1005"/><path class="c" d="M566,288.5L1097.5,1063"/>
<path class="c w2" d="M829.5,1159.5L234.5,2492"/><path class="c w2" d="M191.5,1723L170.5,2237"/><path class="c w2" d="M599,1696L578,2263"/>
<path class="c v" d="M611.5,1501.5H642.5V1516.5H612"/>
<rect class="w" x="470" y="294" width="90" height="14"/><rect class="w" x="574" y="294" width="8" height="14"/><rect class="w" x="488" y="988" width="97" height="13"/><rect class="w" x="590" y="988" width="21" height="13"/><rect class="w" x="995" y="1044" width="95" height="14"/><rect class="w" x="599.5" y="1519" width="101" height="14"/><rect class="w" x="599.5" y="1532" width="18" height="14"/><rect class="w" x="448" y="1812" width="169" height="14"/><rect class="w" x="72" y="1966" width="120" height="27"/><rect class="w" x="110.5" y="2475" width="144" height="14"/>
<text x="471.5" y="304.5">+chr</text><rect class="w" x="492.5" y="294" width="67" height="14"/><text x="493.5" y="304.5">+chromosome</text><text x="576" y="304.5">1</text>
<text x="488.5" y="997.5">+hor</text><rect class="w" x="510" y="988" width="75" height="13"/><text x="511" y="998.5">+geneCollection</text><text x="591.5" y="998.5">0..*</text>
<text x="996" y="1055.5">+cytobandCollection</text><text x="1106" y="1055.5">0..*</text>
<text x="688.5" y="1174.5">+FK_PHYSICAL_LOCATION</text><text x="838" y="1174.5">0..*</text>
<text x="590.5" y="1482.5">+metastasisOf 0..1</text><text x="600" y="1529.5">+metastasisCollection</text><text x="600.5" y="1542.5">0..*</text>
<text x="513.5" y="1711.5">+libraryCollection</text><text x="607.5" y="1711.5">0..*</text>
<text x="5" y="1738.5" style="font-size:10.5px">+FK_LIBRARY_OBJECT_PROTOCOL</text><text x="199" y="1738.5">0..*</text>
<text x="449" y="1822.5">( (ID = PHYSICAL_LOCATION_ID) )</text>
<text x="73.5" y="1976.5">(LIBRARY_PROTOCOL_ID</text><text x="73.5" y="1989.5">= PROTOCOL_ID)</text><text x="181" y="1994" text-anchor="middle">«FK»</text>
<text x="79" y="2229.5">+PK_PROTOCOL</text><text x="178.5" y="2229.5">1</text><text x="527" y="2256">+protocol</text><text x="586.5" y="2256">0..1</text>
<text x="110.5" y="2485.5">+S</text><rect class="w" x="122" y="2475" width="26" height="14"/><text x="122.5" y="2485.5">+EN</text><rect class="w" x="147" y="2475" width="79" height="14"/><text x="148" y="2485.5">+PK_LOCATION</text><text x="243" y="2485.5">1</text><text x="251" y="2485.5">*</text>
<text class="ds" x="396.5" y="60">«DataSource»</text><text class="ds" x="422.5" y="162">«DataSource»</text><text class="ds" x="405.5" y="275">«DataSource»</text><text class="ds" x="383.5" y="367">«DataSource»</text><text class="ds" x="409" y="470">«DataSource»</text><text class="ds" x="429" y="579">«DataSource»</text><text class="ds" x="423.5" y="678">«DataSource»</text><text class="ds" x="413.5" y="780">«DataSource»</text>
<text class="ds" x="930.5" y="76">«DataSource»</text><text class="ds" x="942.5" y="286">«DataSource»</text><text class="ds" x="1018" y="410">«DataSource»</text><text class="ds" x="989" y="528">«DataSource»</text><text class="ds" x="1032.5" y="658">«DataSource»</text><text class="ds" x="1073" y="771">«DataSource»</text>
<text class="ds" x="436.5" y="1060">«DataSource»</text><text class="ds" x="432.5" y="1183">«DataSource»</text><text class="ds" x="407" y="1279">«DataSource»</text><text class="ds" x="407" y="1415">«DataSource»</text><text class="ds" x="436.5" y="1547">«DataSource»</text><text class="ds" x="453" y="1676">«DataSource»</text>
<text class="ds" x="1041.5" y="1116">«DataSource»</text><text class="ds" x="975.5" y="1690.5">«DataSource»</text>
<text class="ds" x="409.5" y="1903">«DataSource»</text><text class="ds" x="420.5" y="2151">«DataSource»</text><text class="ds" x="398" y="2301">«DataSource»</text><text class="ds" x="465.5" y="2450">«DataSource»</text><text class="ds" x="472.5" y="2591">«DataSource»</text><text class="ds" x="441" y="2767">«DataSource»</text><text class="ds" x="388.5" y="2917">«DataSource»</text><text class="ds" x="447.5" y="3025">«DataSource»</text><text class="ds" x="383.5" y="3049">«DataSource»</text><text class="ds" x="416" y="3200">«DataSource»</text><text class="ds" x="401.5" y="3241">«DataSource»</text><text class="ds" x="383.5" y="3312">«DataSource»</text>
</g>
</svg>
